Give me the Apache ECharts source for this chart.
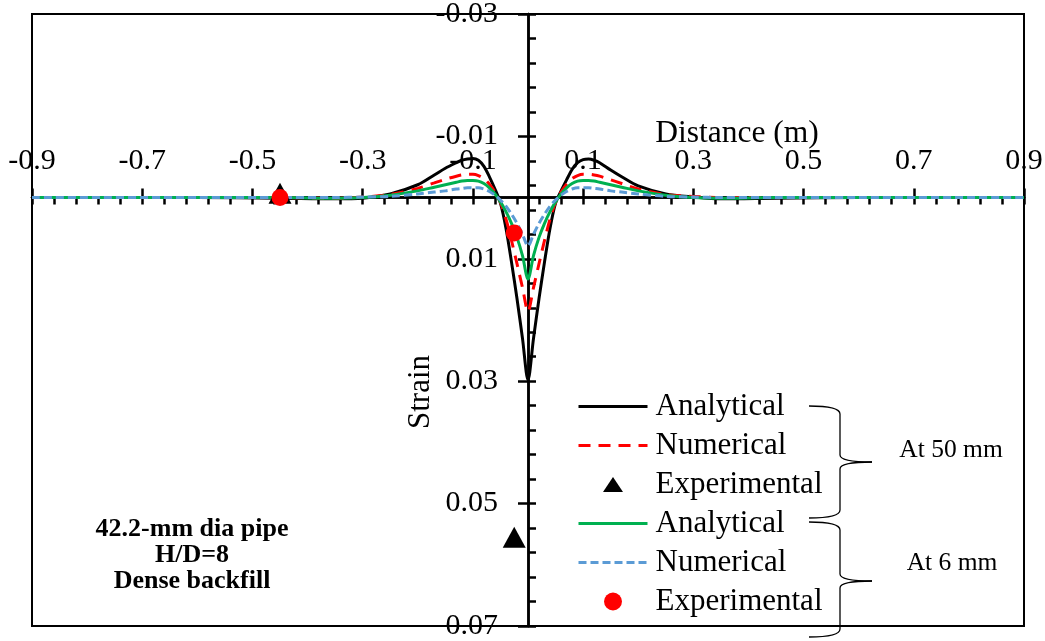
<!DOCTYPE html>
<html>
<head>
<meta charset="utf-8">
<script src="https://cdn.jsdelivr.net/npm/echarts@6/dist/echarts.min.js"></script>
<style>
  html, body { margin: 0; padding: 0; background: #ffffff; }
  #chart { width: 1045px; height: 641px; }
</style>
</head>
<body>
<div id="chart"></div>
<script>
// Distance along the pipe (m), shared by the four curves
const distance = [
  -0.9, -0.6, -0.45, -0.35, -0.3, -0.25, -0.2, -0.17, -0.15, -0.13,
  -0.12, -0.11, -0.1, -0.09, -0.08, -0.07, -0.06, -0.05, -0.04, -0.03,
  -0.02, -0.01, 0, 0.01, 0.02, 0.03, 0.04, 0.05, 0.06, 0.07,
  0.08, 0.09, 0.1, 0.11, 0.12, 0.13, 0.15, 0.17, 0.2, 0.25,
  0.3, 0.35, 0.45, 0.6, 0.9
];

// Strain profiles at 50 mm displacement
const analytical50 = [
  0, 0, 0.0001, 0.0002, 0.0001, -0.0006, -0.0021, -0.0037, -0.0048, -0.0057,
  -0.0061, -0.0063, -0.0064, -0.0061, -0.0051, -0.0034, -0.0014, 0.0009, 0.005, 0.0105,
  0.0165, 0.023, 0.0298, 0.023, 0.0165, 0.0105, 0.005, 0.0009, -0.0011, -0.0029,
  -0.0046, -0.0057, -0.0062, -0.0063, -0.0061, -0.0057, -0.0045, -0.0034, -0.0019, -0.0006,
  -0.0001, 0.0002, 0.0001, 0, 0
];
const numerical50 = [
  0, 0, 0, 0.0001, -0.0001, -0.0005, -0.0015, -0.0024, -0.003, -0.0035,
  -0.0037, -0.0038, -0.0038, -0.0036, -0.0031, -0.0022, -0.0009, 0.0008, 0.0035, 0.007,
  0.0108, 0.0147, 0.0186, 0.0147, 0.0108, 0.007, 0.0035, 0.0008, -0.0009, -0.0022,
  -0.0031, -0.0036, -0.0038, -0.0038, -0.0037, -0.0035, -0.0029, -0.0023, -0.0014, -0.0005,
  -0.0002, 0, 0, 0, 0
];

// Strain profiles at 6 mm displacement
const analytical6 = [
  0, 0, 0, 0.0001, 0, -0.0004, -0.0011, -0.0017, -0.0021, -0.0025,
  -0.0027, -0.0028, -0.0028, -0.0027, -0.0023, -0.0016, -0.0006, 0.0007, 0.0023, 0.0042,
  0.0065, 0.0095, 0.0133, 0.0095, 0.0065, 0.0042, 0.0023, 0.0007, -0.0006, -0.0016,
  -0.0023, -0.0027, -0.0028, -0.0028, -0.0027, -0.0025, -0.0021, -0.0017, -0.0011, -0.0004,
  0, 0.0001, 0, 0, 0
];
const numerical6 = [
  0, 0, 0, 0, -0.0001, -0.0002, -0.0006, -0.0009, -0.0011, -0.0014,
  -0.0015, -0.0016, -0.0016, -0.0016, -0.0014, -0.001, -0.0004, 0.0004, 0.0014, 0.0027,
  0.0042, 0.006, 0.0079, 0.006, 0.0042, 0.0027, 0.0014, 0.0004, -0.0004, -0.001,
  -0.0014, -0.0016, -0.0016, -0.0016, -0.0015, -0.0014, -0.0011, -0.0009, -0.0006, -0.0002,
  -0.0001, 0, 0, 0, 0
];

// Measured points
const expDistance50 = [-0.45, -0.025];
const expStrain50 = [-0.0007, 0.0555];
const expDistance6 = [-0.45, -0.025];
const expStrain6 = [0, 0.0058];

// Tick labels
const xMajorTicks = [-0.9, -0.7, -0.5, -0.3, -0.1, 0.1, 0.3, 0.5, 0.7, 0.9];
const yMajorTicks = [-0.03, -0.01, 0.01, 0.03, 0.05, 0.07];

// Axis extents
const X_MIN = -0.9, X_MAX = 0.9;
const Y_MIN = -0.03, Y_MAX = 0.07;

// Minor tick positions: five per major division
const xMinorTicks = [];
for (let i = 0; i <= 45; i++) xMinorTicks.push(Math.round((X_MIN + i * 0.04) * 1e4) / 1e4);
const yMinorTicks = [];
for (let i = 0; i <= 25; i++) yMinorTicks.push(Math.round((Y_MIN + i * 0.004) * 1e5) / 1e5);

const SERIF = "'Liberation Serif', 'Times New Roman', serif";
const GRID = { left: 32, top: 14, width: 992, height: 612 };

// The two axes cross at the origin: shift them in from the grid edges.
// y runs downward (inverse), so zero sits (Y_MAX / span) of the height above the bottom.
const xAxisShift = -GRID.height * (Y_MAX - 0) / (Y_MAX - Y_MIN);
const yAxisShift = -GRID.width * (0 - X_MIN) / (X_MAX - X_MIN);

const pairs = (xs, ys) => xs.map((x, i) => [x, ys[i]]);

function lineSeries(name, values, color, dash) {
  return {
    type: 'line',
    name: name,
    data: pairs(distance, values),
    xAxisIndex: 0,
    yAxisIndex: 0,
    symbol: 'none',
    smooth: 0.3,
    lineStyle: { color: color, width: 3, type: dash || 'solid' },
    itemStyle: { color: color },
    z: 3
  };
}

// Curly brace drawn from thin strokes
function brace(xArm, xStem, xTip, yTop, yTip, yBottom) {
  const st = { stroke: '#000', lineWidth: 1.3, fill: null };
  return [
    { type: 'bezierCurve', shape: { x1: xArm, y1: yTop, x2: xStem, y2: yTop + 8, cpx1: xStem, cpy1: yTop }, style: st },
    { type: 'line', shape: { x1: xStem, y1: yTop + 8, x2: xStem, y2: yTip - 7 }, style: st },
    { type: 'bezierCurve', shape: { x1: xStem, y1: yTip - 7, x2: xTip, y2: yTip, cpx1: xStem, cpy1: yTip }, style: st },
    { type: 'bezierCurve', shape: { x1: xTip, y1: yTip, x2: xStem, y2: yTip + 7, cpx1: xStem, cpy1: yTip }, style: st },
    { type: 'line', shape: { x1: xStem, y1: yTip + 7, x2: xStem, y2: yBottom - 8 }, style: st },
    { type: 'bezierCurve', shape: { x1: xStem, y1: yBottom - 8, x2: xArm, y2: yBottom, cpx1: xStem, cpy1: yBottom }, style: st }
  ];
}

function label(text, x, y, size, extra) {
  return Object.assign({
    type: 'text',
    x: x,
    y: y,
    z: 10,
    style: Object.assign({
      text: text,
      fill: '#000',
      fontFamily: SERIF,
      fontSize: size,
      align: 'center',
      verticalAlign: 'middle',
      textAlign: 'center',
      textVerticalAlign: 'middle'
    }, (extra && extra.style) || {})
  }, extra ? { rotation: extra.rotation || 0 } : {});
}

const axisLineStyle = { color: '#000000', width: 2.5 };

// Legend entries: line entries show only the stroke, no marker
const hideMarker = { opacity: 0 };
// Marker icons in a 20x20 frame so they keep their proportions inside the legend slot
const legendTriangle = 'path://M0,0M20,20M10,2.5L20,17.5L0,17.5Z';
const legendCircle = 'path://M0,0M20,20M1,10a9,9 0 1,0 18,0a9,9 0 1,0 -18,0Z';

const option = {
  backgroundColor: '#ffffff',
  animation: false,
  grid: Object.assign({
    show: true, borderColor: '#000', borderWidth: 2,
    containLabel: false, outerBoundsMode: 'none'
  }, GRID),
  xAxis: [
    {
      type: 'value', min: X_MIN, max: X_MAX, position: 'bottom', offset: xAxisShift,
      axisLine: { show: true, onZero: false, lineStyle: axisLineStyle },
      axisTick: { show: true, customValues: xMinorTicks, inside: false, length: 7, lineStyle: axisLineStyle },
      axisLabel: {
        show: true, inside: true, customValues: xMajorTicks, margin: 21,
        color: '#000', fontFamily: SERIF, fontSize: 30
      },
      splitLine: { show: false }
    },
    {
      type: 'value', min: X_MIN, max: X_MAX, position: 'bottom', offset: xAxisShift,
      axisLine: { show: true, onZero: false, lineStyle: axisLineStyle },
      axisTick: { show: true, customValues: xMajorTicks, inside: true, length: 9, lineStyle: axisLineStyle },
      axisLabel: { show: false },
      splitLine: { show: false }
    }
  ],
  yAxis: [
    {
      type: 'value', inverse: true, min: Y_MIN, max: Y_MAX, position: 'left', offset: yAxisShift,
      axisLine: { show: true, onZero: false, lineStyle: axisLineStyle },
      axisTick: { show: true, customValues: yMinorTicks, inside: true, length: 8, lineStyle: axisLineStyle },
      axisLabel: {
        show: true, customValues: yMajorTicks, margin: 30,
        color: '#000', fontFamily: SERIF, fontSize: 30
      },
      splitLine: { show: false }
    },
    {
      type: 'value', inverse: true, min: Y_MIN, max: Y_MAX, position: 'left', offset: yAxisShift,
      axisLine: { show: true, onZero: false, lineStyle: axisLineStyle },
      axisTick: { show: true, customValues: yMajorTicks, inside: false, length: 10, lineStyle: axisLineStyle },
      axisLabel: { show: false },
      splitLine: { show: false }
    }
  ],
  legend: {
    orient: 'vertical',
    left: 577, top: 391, padding: 0,
    itemWidth: 69, itemHeight: 20, itemGap: 8,
    symbolKeepAspect: true,
    selectedMode: false,
    lineStyle: { width: 'inherit' },
    textStyle: { fontFamily: SERIF, fontSize: 31, color: '#000', padding: [0, 0, 0, 3] },
    formatter: (name) => name.replace(/ \(.*\)$/, ''),
    data: [
      { name: 'Analytical (50 mm)', itemStyle: hideMarker },
      { name: 'Numerical (50 mm)', itemStyle: hideMarker },
      { name: 'Experimental (50 mm)', icon: legendTriangle },
      { name: 'Analytical (6 mm)', itemStyle: hideMarker },
      { name: 'Numerical (6 mm)', itemStyle: hideMarker },
      { name: 'Experimental (6 mm)', icon: legendCircle }
    ]
  },
  series: [
    lineSeries('Analytical (50 mm)', analytical50, '#000000'),
    lineSeries('Numerical (50 mm)', numerical50, '#FF0000', [12, 8]),
    {
      type: 'scatter', name: 'Experimental (50 mm)',
      data: pairs(expDistance50, expStrain50),
      symbol: 'triangle', symbolSize: [23, 21],
      itemStyle: { color: '#000000', opacity: 1 }, z: 4
    },
    lineSeries('Analytical (6 mm)', analytical6, '#00B050'),
    lineSeries('Numerical (6 mm)', numerical6, '#5B9BD5', [8, 4]),
    {
      type: 'scatter', name: 'Experimental (6 mm)',
      data: pairs(expDistance6, expStrain6),
      symbol: 'circle', symbolSize: 17,
      itemStyle: { color: '#FF0000', opacity: 1 }, z: 4
    }
  ],
  graphic: {
    elements: [
      label('Distance (m)', 737, 134, 31.5),
      label('Strain', 421, 392, 31, { rotation: Math.PI / 2 }),
      label('42.2-mm dia pipe\nH/D=8\nDense backfill', 192, 555, 26, { style: { fontWeight: 'bold', lineHeight: 26 } }),
      label('At 50 mm', 951, 450, 25.5),
      label('At 6 mm', 952, 563, 25.5)
    ].concat(
      brace(809, 840, 872, 406, 462, 518),
      brace(809, 840, 872, 522, 581, 637)
    )
  }
};

const chart = echarts.init(document.getElementById('chart'));
chart.setOption(option);
</script>
</body>
</html>
